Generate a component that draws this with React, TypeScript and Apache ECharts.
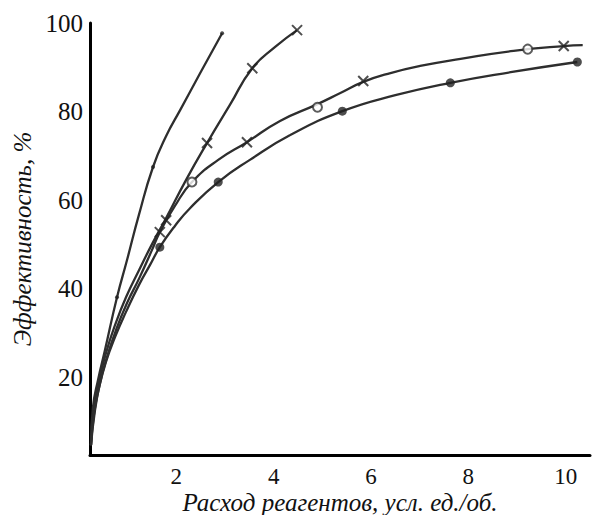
import React, { useEffect, useRef } from "react";
import * as echarts from "echarts";

// x tick labels and y tick labels
const xTicks = [2, 4, 6, 8, 10];
const yTicks = [20, 40, 60, 80, 100];

// Curve lines
const curveA = [[0.245, 4.7], [0.286, 13.3], [0.389, 19.4], [0.533, 26.2], [0.78, 38.1], [0.986, 46.5], [1.23, 56.7], [1.52, 67.5], [1.79, 74.5], [2.08, 80.4], [2.49, 88.7], [2.94, 97.7]];
const curveB = [[0.245, 4.7], [0.307, 12.6], [0.409, 19.2], [0.553, 25.5], [0.739, 31.8], [0.965, 38.1], [1.232, 44.2], [1.5, 50.1], [1.79, 56.0], [2.2, 64.6], [2.63, 72.9], [3.1, 81.5], [3.56, 89.8], [4.03, 94.6], [4.48, 98.4]];
const curveC = [[0.245, 4.7], [0.327, 12.6], [0.43, 18.7], [0.574, 24.6], [0.759, 30.7], [0.986, 36.8], [1.25, 42.7], [1.5, 48.8], [1.66, 52.8], [1.97, 58.7], [2.32, 64.1], [2.86, 69.1], [3.45, 73.1], [4.13, 77.9], [4.9, 81.7], [5.37, 84.2], [5.84, 86.7], [6.4, 88.7], [7.01, 90.3], [7.84, 91.9], [8.93, 93.7], [9.96, 94.8], [10.35, 95.0]];
const curveD = [[0.245, 4.7], [0.307, 11.7], [0.409, 17.6], [0.553, 23.5], [0.739, 29.1], [0.965, 34.8], [1.232, 40.9], [1.459, 45.4], [1.66, 49.4], [1.97, 54.2], [2.28, 58.2], [2.86, 64.1], [3.51, 69.1], [4.34, 74.7], [5.41, 80.1], [6.5, 83.7], [7.63, 86.5], [8.87, 88.9], [10.24, 91.2]];

// Marker points
const dotsA = [[0.78, 38.1], [1.52, 67.5], [2.94, 97.7]];
const crossesB = [[1.79, 55.5], [2.63, 72.9], [3.56, 89.8], [4.48, 98.4]];
const circlesC = [[2.32, 64.1], [4.9, 81.0], [9.22, 94.1]];
const crossesC = [[1.66, 52.8], [3.45, 73.1], [5.84, 86.9], [9.96, 94.8]];
const dotsD = [[1.66, 49.4], [2.86, 64.1], [5.41, 80.1], [7.63, 86.5], [10.24, 91.2]];

const xName = "Расход реагентов, усл. ед./об.";
const yName = "Эффективность, %";

const LINE = "#2e2e2e";
const FONT = "Liberation Serif";
const CROSS = "path://M0 0L10 10M10 0L0 10";

export default function App() {
  const ref = useRef<HTMLDivElement>(null);
  useEffect(() => {
    document.body.style.margin = "0";
    const chart = echarts.init(ref.current!, null, { renderer: "svg" });
    const lineSeries = (data: number[][]) => ({
      type: "line",
      data,
      smooth: 0.5,
      showSymbol: false,
      symbol: "none",
      lineStyle: { color: LINE, width: 2.3 },
      z: 2,
    });
    chart.setOption({
      animation: false,
      backgroundColor: "#ffffff",
      textStyle: { fontFamily: FONT },
      grid: { left: 90, right: 3, top: 23, bottom: 60, containLabel: false, outerBoundsMode: "none" },
      xAxis: {
        type: "value",
        min: 0.225,
        max: 10.5,
        name: xName,
        nameLocation: "middle",
        nameMoveOverlap: false,
        nameGap: 35,
        nameTextStyle: { fontFamily: FONT, fontStyle: "italic", fontSize: 25, color: "#111" },
        axisLine: { show: true, onZero: false, lineStyle: { color: "#000", width: 3 } },
        axisTick: { show: false },
        splitLine: { show: false },
        axisLabel: { customValues: xTicks, fontFamily: FONT, fontSize: 23, color: "#111", margin: 10 },
      },
      yAxis: {
        type: "value",
        min: 2.5,
        max: 100,
        name: yName,
        nameLocation: "middle",
        nameMoveOverlap: false,
        nameGap: 55,
        nameTextStyle: { fontFamily: FONT, fontStyle: "italic", fontSize: 25, color: "#111" },
        axisLine: { show: true, onZero: false, lineStyle: { color: "#000", width: 3 } },
        axisTick: { show: false },
        splitLine: { show: false },
        axisLabel: { customValues: yTicks, fontFamily: FONT, fontSize: 25, color: "#111", margin: 7 },
      },
      series: [
        lineSeries(curveA),
        lineSeries(curveB),
        lineSeries(curveC),
        lineSeries(curveD),
        { type: "scatter", data: dotsA, symbol: "circle", symbolSize: 4, itemStyle: { color: "#222" }, z: 3 },
        { type: "scatter", data: crossesB, symbol: CROSS, symbolSize: 10, itemStyle: { color: "transparent", borderColor: "#222", borderWidth: 2 }, z: 3 },
        { type: "scatter", data: crossesC, symbol: CROSS, symbolSize: 10, itemStyle: { color: "transparent", borderColor: "#222", borderWidth: 2 }, z: 3 },
        { type: "scatter", data: circlesC, symbol: "circle", symbolSize: 9, itemStyle: { color: "#fff", borderColor: "#333", borderWidth: 2 }, z: 3 },
        { type: "scatter", data: dotsD, symbol: "circle", symbolSize: 9, itemStyle: { color: "#222" }, z: 3 },
      ],
    });
    return () => chart.dispose();
  }, []);
  return <div ref={ref} style={{ width: 593, height: 515 }} />;
}
